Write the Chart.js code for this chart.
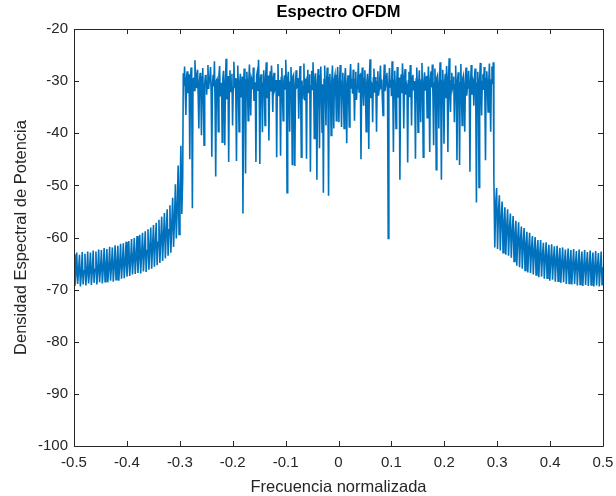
<!DOCTYPE html>
<html>
<head>
<meta charset="utf-8">
<script src="https://cdn.jsdelivr.net/npm/chart.js@4.4.0/dist/chart.umd.min.js"></script>
<style>
  html, body { margin: 0; padding: 0; background: #fff; }
</style>
</head>
<body>
<canvas id="spectrum" width="616" height="496"></canvas>
<script>
// --- values (dB) ---

// frequency span of each part of the trace
const leftLobeRange = [-0.5, -0.2945];
const bandRange = [-0.2934, 0.2926];
const rightLobeRange = [0.2937, 0.5];

// left side lobe: top, null, mid per ripple
const leftLobe = [
    -63.2, -69.3, -66.9, -62.9, -68.9, -66.5, -63.3, -69.4, -67.0, -62.8, -69.0, -66.4,
    -63.1, -69.2, -66.8, -62.7, -68.8, -66.3, -62.9, -69.1, -66.6, -62.5, -68.7, -66.1,
    -62.7, -69.0, -66.4, -62.3, -68.6, -66.0, -62.4, -68.8, -66.1, -62.0, -68.5, -65.8,
    -62.2, -68.6, -65.9, -61.8, -68.3, -65.5, -61.9, -68.5, -65.7, -61.5, -68.1, -65.3,
    -61.6, -68.3, -65.4, -61.2, -67.9, -65.0, -61.1, -67.8, -64.9, -60.8, -67.5, -64.6,
    -60.7, -67.4, -64.4, -60.3, -67.1, -64.1, -60.1, -67.0, -63.8, -59.7, -66.8, -63.5,
    -59.5, -66.9, -63.2, -59.1, -66.5, -62.9, -58.8, -66.6, -62.5, -58.4, -66.2, -62.1,
    -58.1, -66.0, -61.8, -57.6, -65.6, -61.3, -57.2, -65.3, -60.9, -56.6, -64.9, -60.3,
    -56.0, -64.5, -59.8, -55.3, -64.0, -59.1, -54.6, -63.5, -58.5, -53.8, -62.9, -57.8,
    -52.4, -61.8, -56.6, -49.8, -60.2, -54.5, -46.2, -59.4, -52.0, -42.4, -55.5, -48.5
];

// occupied band
const bandValues = [
    -28.5, -30.9, -27.2, -31.6, -36.5, -29.4, -28.1, -32.3, -30.6, -28.7, -45.0, -30.2, -27.4, -33.1, -54.4, -29.6, -29.3, -31.8, -26.0, -30.4,
    -31.2, -28.6, -27.8, -32.9, -39.1, -30.0, -28.4, -31.3, -40.4, -29.2, -27.5, -33.6, -42.3, -30.7, -29.0, -28.8, -32.6, -30.1, -26.9, -31.5,
    -30.1, -29.3, -27.3, -32.4, -44.5, -30.6, -28.8, -31.0, -26.2, -34.2, -48.3, -29.9, -29.6, -31.7, -39.7, -28.9, -27.1, -32.8, -32.4, -30.3,
    -41.7, -29.5, -28.0, -31.9, -42.3, -30.1, -25.7, -33.5, -31.5, -29.0, -45.5, -30.8, -27.9, -32.1, -30.8, -28.6, -38.5, -31.2, -26.3, -30.5,
    -29.4, -32.6, -45.3, -29.7, -27.0, -31.4, -39.7, -30.3, -28.6, -33.0, -31.9, -29.1, -55.4, -30.6, -27.6, -32.5, -47.7, -29.8, -28.2, -31.1,
    -37.6, -30.0, -26.8, -32.7, -36.6, -29.4, -29.9, -31.6, -27.4, -33.8, -32.8, -30.2, -45.5, -29.0, -28.3, -31.9, -25.9, -30.7, -45.9, -29.6,
    -28.7, -32.2, -39.8, -30.4, -27.9, -31.3, -38.5, -29.2, -26.4, -33.3, -30.7, -28.9, -41.4, -30.9, -28.1, -32.0, -27.0, -30.1, -35.9, -29.5,
    -28.4, -31.7, -31.3, -29.8, -44.6, -30.5, -26.7, -32.9, -29.8, -31.0, -44.3, -29.3, -27.5, -33.2, -37.6, -30.0, -28.9, -31.5, -25.9, -30.8,
    -51.4, -29.6, -28.2, -32.4, -39.7, -30.2, -27.3, -31.8, -46.0, -29.1, -28.8, -33.0, -46.3, -30.6, -27.9, -31.2, -31.0, -29.4, -37.2, -30.3,
    -27.1, -32.6, -44.6, -29.9, -33.4, -31.1, -26.6, -33.7, -29.5, -30.4, -44.9, -29.2, -27.8, -32.3, -30.2, -28.7, -47.4, -30.9, -28.0, -31.6,
    -26.4, -30.1, -41.0, -29.5, -28.5, -32.8, -48.9, -30.3, -27.7, -31.4, -42.9, -29.0, -27.2, -33.1, -39.8, -30.6, -51.4, -29.7, -27.0, -32.0,
    -38.5, -30.2, -27.4, -31.9, -52.0, -29.3, -28.6, -32.5, -40.4, -30.0, -27.0, -33.4, -39.1, -29.6, -28.8, -31.2, -37.6, -30.4, -27.3, -32.7,
    -37.9, -29.8, -26.9, -31.5, -38.8, -30.1, -28.4, -32.9, -39.1, -29.4, -27.5, -31.8, -41.9, -30.7, -28.9, -33.0, -38.8, -29.2, -26.7, -31.3,
    -29.6, -32.4, -27.8, -30.5, -37.6, -29.7, -28.2, -33.6, -31.4, -30.0, -26.5, -32.1, -29.0, -28.8, -45.0, -30.9, -27.4, -31.7, -34.7, -29.5,
    -27.9, -32.6, -39.7, -30.3, -28.6, -31.0, -43.0, -29.1, -25.8, -33.3, -30.3, -30.6, -37.9, -29.4, -27.6, -32.2, -29.2, -31.5, -39.7, -30.1,
    -28.1, -32.8, -31.6, -29.6, -27.0, -31.3, -29.7, -33.5, -36.6, -30.2, -26.8, -31.9, -30.9, -29.0, -28.4, -32.4, -60.2, -30.5, -27.5, -31.1,
    -29.8, -32.9, -26.2, -30.4, -43.6, -29.8, -28.0, -31.6, -39.1, -30.7, -27.3, -33.2, -31.2, -29.3, -48.9, -30.9, -28.7, -32.3, -26.6, -30.0,
    -39.1, -29.5, -27.7, -32.6, -30.4, -31.0, -45.6, -29.9, -28.2, -33.1, -26.9, -30.5, -38.5, -29.2, -28.8, -31.8, -30.0, -32.5, -44.9, -29.6,
    -27.4, -31.4, -39.8, -30.3, -27.9, -32.7, -37.9, -29.8, -26.5, -33.4, -44.6, -30.1, -28.3, -31.7, -30.7, -29.0, -37.0, -30.8, -27.2, -32.2,
    -43.6, -29.7, -28.1, -31.2, -26.8, -33.0, -42.3, -30.4, -27.6, -32.1, -47.0, -29.3, -28.9, -31.5, -39.1, -30.6, -26.4, -32.9, -48.9, -29.9,
    -27.8, -31.8, -42.0, -30.2, -28.6, -33.3, -27.1, -30.9, -43.6, -29.5, -25.6, -32.4, -35.9, -30.0, -28.4, -31.3, -30.6, -29.1, -37.9, -30.7,
    -27.0, -32.5, -45.2, -29.8, -28.3, -31.6, -46.1, -30.3, -26.7, -33.2, -38.5, -29.4, -28.9, -31.9, -39.7, -30.5, -27.4, -32.8, -31.3, -29.7,
    -28.0, -31.1, -47.4, -30.6, -26.9, -32.6, -29.5, -30.0, -34.7, -29.2, -27.6, -33.5, -53.3, -30.4, -28.2, -31.4, -50.4, -29.6, -26.5, -32.0,
    -36.6, -30.1, -28.7, -31.7, -27.3, -32.9, -45.2, -29.5, -28.1, -31.2, -35.9, -30.3, -26.6, -32.3, -39.7, -29.8, -27.2, -30.6, -26.4
];

// right side lobe: top, null, mid per ripple
const rightLobe = [
    -48.4, -61.9, -53.5, -50.5, -62.2, -55.0, -51.9, -62.5, -56.3, -53.1, -62.9, -57.2,
    -54.2, -63.3, -58.0, -54.6, -63.5, -58.4, -55.4, -63.9, -59.0, -55.9, -64.6, -59.5,
    -56.8, -65.4, -60.2, -57.1, -65.7, -60.5, -57.9, -66.0, -61.1, -58.2, -66.3, -61.4,
    -58.9, -66.7, -62.0, -59.1, -66.8, -62.2, -59.7, -67.1, -62.7, -59.9, -67.2, -62.9,
    -60.5, -67.6, -63.4, -60.5, -67.5, -63.4, -61.0, -67.9, -63.9, -60.9, -67.8, -63.8,
    -61.4, -68.3, -64.3, -61.3, -68.1, -64.2, -61.7, -68.5, -64.6, -61.6, -68.4, -64.5,
    -62.0, -68.7, -64.9, -61.9, -68.6, -64.8, -62.3, -68.9, -65.2, -62.1, -68.8, -65.0,
    -62.4, -69.0, -65.4, -62.2, -68.9, -65.2, -62.6, -69.2, -65.6, -62.3, -69.0, -65.3,
    -62.7, -69.3, -65.7, -62.4, -69.1, -65.4, -62.8, -69.3, -65.8, -62.5, -69.1, -65.5,
    -62.9, -69.4, -65.9, -62.6, -69.2, -65.6, -63.0, -69.4, -66.0, -62.7, -69.2, -65.7
];

const xTicks = [-0.5, -0.4, -0.3, -0.2, -0.1, 0, 0.1, 0.2, 0.3, 0.4, 0.5];
const yTicks = [-100, -90, -80, -70, -60, -50, -40, -30, -20];

// --- chart ---

const FONT = "'Liberation Sans', Arial, Helvetica, sans-serif";
const AXIS_COLOR = '#262626';

// spread a list of values evenly over a frequency span
function segment(values, range) {
    const step = (range[1] - range[0]) / (values.length - 1);
    return values.map((v, i) => ({ x: range[0] + i * step, y: v }));
}

const points = [
    ...segment(leftLobe, leftLobeRange),
    ...segment(bandValues, bandRange),
    ...segment(rightLobe, rightLobeRange)
];

// box round the axes with inward ticks on all four sides
const matlabBox = {
    id: 'matlabBox',
    afterDraw(chart) {
        const { ctx, chartArea: a, scales: { x, y } } = chart;
        ctx.save();
        ctx.strokeStyle = AXIS_COLOR;
        ctx.lineWidth = 1;
        ctx.beginPath();
        ctx.rect(a.left + 0.5, a.top + 0.5, a.right - a.left, a.bottom - a.top);
        xTicks.forEach(v => {
            const px = Math.round(x.getPixelForValue(v)) + 0.5;
            ctx.moveTo(px, a.bottom); ctx.lineTo(px, a.bottom - 5);
            ctx.moveTo(px, a.top); ctx.lineTo(px, a.top + 5);
        });
        yTicks.forEach(v => {
            const py = Math.round(y.getPixelForValue(v)) + 0.5;
            ctx.moveTo(a.left, py); ctx.lineTo(a.left + 5, py);
            ctx.moveTo(a.right, py); ctx.lineTo(a.right - 5, py);
        });
        ctx.stroke();
        ctx.restore();
    }
};

new Chart(document.getElementById('spectrum').getContext('2d'), {
    type: 'line',
    data: {
        datasets: [{
            data: points,
            borderColor: '#0072BD',
            borderWidth: 1.6,
            pointRadius: 0,
            tension: 0,
            fill: false
        }]
    },
    options: {
        responsive: false,
        animation: false,
        devicePixelRatio: 1,
        layout: { padding: { left: 0, right: 13, top: 0, bottom: 0 } },
        plugins: {
            legend: { display: false },
            tooltip: { enabled: false },
            title: {
                display: true,
                text: 'Espectro OFDM',
                fullSize: false,
                color: '#000',
                font: { family: FONT, size: 16.5, weight: 'bold' },
                padding: { top: 3, bottom: 6.2 }
            }
        },
        scales: {
            x: {
                type: 'linear',
                min: -0.5, max: 0.5,
                afterFit: s => { s.height = 50; s.paddingLeft = 0; s.paddingRight = 0; },
                afterBuildTicks: s => { s.ticks = xTicks.map(v => ({ value: v })); },
                grid: { display: false, drawTicks: false },
                border: { display: false },
                ticks: {
                    color: AXIS_COLOR,
                    padding: 8,
                    maxRotation: 0,
                    font: { family: FONT, size: 15 },
                    callback: v => String(Math.round(v * 10) / 10)
                },
                title: {
                    display: true,
                    text: 'Frecuencia normalizada',
                    color: AXIS_COLOR,
                    font: { family: FONT, size: 16.5 },
                    padding: { top: 0, bottom: -1 }
                }
            },
            y: {
                min: -100, max: -20,
                afterFit: s => { s.width = 74; },
                afterBuildTicks: s => { s.ticks = yTicks.map(v => ({ value: v })); },
                grid: { display: false, drawTicks: false },
                border: { display: false },
                ticks: {
                    color: AXIS_COLOR,
                    padding: 6,
                    font: { family: FONT, size: 15 }
                },
                title: {
                    display: true,
                    text: 'Densidad Espectral de Potencia',
                    color: AXIS_COLOR,
                    font: { family: FONT, size: 16.5 },
                    padding: { top: 12, bottom: 0 }
                }
            }
        }
    },
    plugins: [matlabBox]
});
</script>
</body>
</html>
